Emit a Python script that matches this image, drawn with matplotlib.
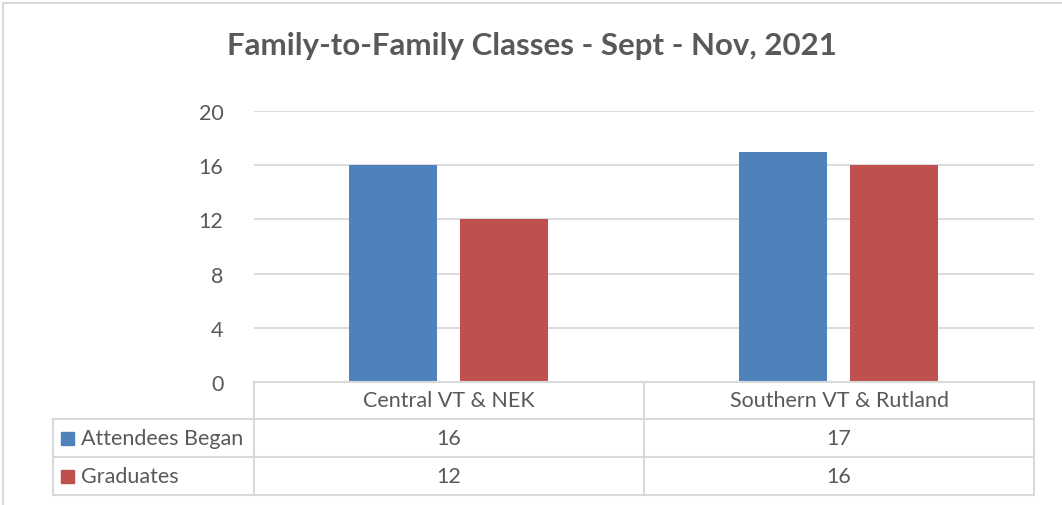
import matplotlib
matplotlib.use("Agg")
import matplotlib.pyplot as plt
from matplotlib.lines import Line2D
from matplotlib.patches import Rectangle
from matplotlib.transforms import blended_transform_factory

plt.rcParams['font.family'] = ['Lato', 'DejaVu Sans']

# data
regions = ["Central VT & NEK", "Southern VT & Rutland"]
series_names = ["Attendees Began", "Graduates"]
attendees = [16, 17]
graduates = [12, 16]
yticks = [0, 4, 8, 12, 16, 20]
title = "Family-to-Family Classes - Sept - Nov, 2021"

colors = ["#4F81BD", "#C0504D"]
grid_col = "#D9D9D9"
text_col = "#595959"

W, H = 1062, 506
fig = plt.figure(figsize=(W / 100, H / 100), dpi=100)

def fx(px):
    return px / W

def fy(py):
    return 1 - py / H

# plot area in pixels
left, right, top, bottom = 254, 1034, 112, 383
ax = fig.add_axes([fx(left), fy(bottom), (right - left) / W, (bottom - top) / H])

x = range(len(regions))
width = 0.226
offsets = [-0.143, 0.142]
for vals, off, c in zip([attendees, graduates], offsets, colors):
    ax.bar([i + off for i in x], vals, width=width, color=c, zorder=3)

ax.set_xlim(-0.5, len(regions) - 0.5)
ax.set_ylim(0, 20)
ax.set_yticks(yticks)
ax.set_yticklabels([str(t) for t in yticks], fontsize=15.5, color=text_col)
ax.tick_params(axis='y', length=0, pad=22)
ax.set_xticks([])
ax.grid(axis='y', color=grid_col, linewidth=1.3, zorder=0)
for s in ax.spines.values():
    s.set_visible(False)

fig.text(fx(532), fy(46), title, ha='center', va='center', fontsize=22.5,
         fontweight='bold', color=text_col)

# data table under the plot
tr = blended_transform_factory(ax.transData, fig.transFigure)
row_y = [383, 420, 458, 496]
tab_left = 53
lw = 1.5
fs = 15.5

def hline(x0, x1, y):
    fig.add_artist(Line2D([fx(x0), fx(x1)], [fy(y), fy(y)], color=grid_col, lw=lw))

def vline(xp, y0, y1):
    fig.add_artist(Line2D([fx(xp), fx(xp)], [fy(y0), fy(y1)], color=grid_col, lw=lw))

hline(left, right, row_y[0])
for y in row_y[1:]:
    hline(tab_left, right, y)
vline(tab_left, row_y[1], row_y[3])
vline(left, row_y[0], row_y[3])
vline((left + right) / 2, row_y[0], row_y[3])
vline(right, row_y[0], row_y[3])

for i, r in enumerate(regions):
    ax.text(i, fy((row_y[0] + row_y[1]) / 2), r, transform=tr, ha='center', va='center',
            fontsize=fs, color=text_col)
    for k, vals in enumerate([attendees, graduates]):
        ax.text(i, fy((row_y[k + 1] + row_y[k + 2]) / 2), str(vals[i]), transform=tr,
                ha='center', va='center', fontsize=fs, color=text_col)

for k, name in enumerate(series_names):
    yc = (row_y[k + 1] + row_y[k + 2]) / 2
    fig.add_artist(Rectangle((fx(61), fy(yc + 6.5)), 13 / W, 13 / H, color=colors[k],
                             transform=fig.transFigure))
    fig.text(fx(81), fy(yc), name, ha='left', va='center', fontsize=fs, color=text_col)

# chart frame (only top and left visible in the crop)
fig.add_artist(Line2D([fx(3), fx(W)], [fy(4), fy(4)], color=grid_col, lw=1.5))
fig.add_artist(Line2D([fx(3), fx(3)], [fy(4), fy(H)], color=grid_col, lw=1.5))

fig.savefig("out.png", dpi=100)
